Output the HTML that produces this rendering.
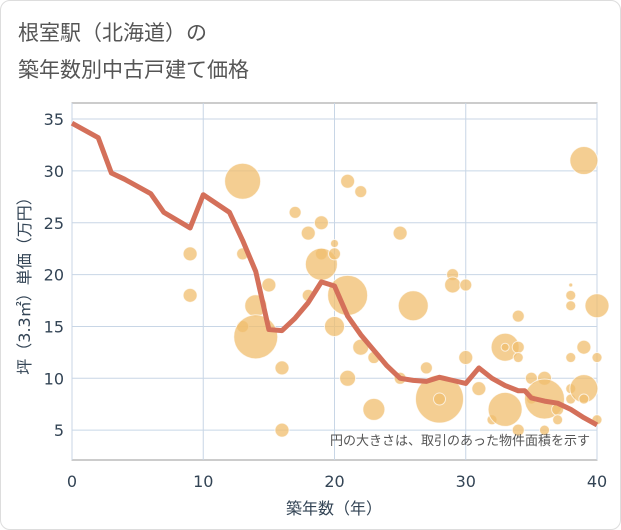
<!DOCTYPE html>
<html><head><meta charset="utf-8"><style>
body{margin:0;background:#fff;}
.wrap{position:absolute;left:0;top:0;width:619px;height:528px;border:1px solid #ddd;border-radius:10px;background:#fff;}
text{font-family:"DejaVu Sans","Liberation Sans","Noto Sans CJK JP",sans-serif;}
</style></head><body>
<div class="wrap"></div>
<svg id="c" width="621" height="530" style="position:absolute;left:0;top:0">
<text x="18" y="40" font-size="21" fill="#555">根室駅（北海道）の</text>
<text x="18" y="77" font-size="21" fill="#555">築年数別中古戸建て価格</text>
<g id="grid"></g><g id="bub"></g><g id="ln"></g><g id="ax"></g>
<text x="590" y="445" font-size="13" fill="#555" text-anchor="end">円の大きさは、取引のあった物件面積を示す</text>
<text x="334" y="514" font-size="16" fill="#345" text-anchor="middle">築年数（年）</text>
<text transform="translate(30,282) rotate(-90)" font-size="16" fill="#345" text-anchor="middle">坪（3.3㎡）単価（万円）</text>
</svg>
<script>
const lineAges=[0,2,3,4,5,6,7,9,10,12,13,14,15,16,17,18,19,20,21,22,23,24,25,26,27,28,29,30,31,32,33,34,34.5,35,36,37,38,39,40];
const lineValues=[34.6,33.2,29.8,29.2,28.5,27.8,26.0,24.5,27.7,26.0,23.3,20.3,14.7,14.6,15.8,17.3,19.3,18.9,16.0,14.2,12.7,11.2,10.0,9.8,9.7,10.1,9.8,9.5,11.0,10.0,9.3,8.8,8.8,8.1,7.8,7.6,7.0,6.2,5.5];
const bubAges=[9,9,13,13,13,14,14,15,16,16,17,18,18,19,19,19,20,20,20,21,21,21,22,22,23,23,25,25,26,27,28,28,29,29,30,30,31,32,33,33,33,34,34,34,34,35,35,36,36,36,37,37,38,38,38,38,38,38,39,39,39,39,40,40,40];
const bubValues=[22,18,29,22,15,17,14,19,11,5,26,24,18,25,22,21,23,22,15,29,18,10,28,13,12,7,24,10,17,11,8,8,20,19,19,12,9,6,13,13,7,16,13,12,5,10,8,10,8,5,7,6,19,18,17,12,9,8,31,13,9,8,17,12,6];
const bubSizes=[7,7,18,6,6,11,22,7,7,7,6,7,6,7,6,16,4,6,10,7,20,8,6,8,6,11,7,6,15,6,24,6,6,8,6,7,7,5,14,4,17,6,6,5,6,6,5,7,20,5,6,5,2,5,5,5,5,5,14,7,14,5,12,5,5];
const xTicks=[0,10,20,30,40], yTicks=[5,10,15,20,25,30,35];
const L=72,R=597,T=103,B=460;
const xs=v=>L+(v/40)*(R-L);
const ys=v=>482-10.37*v;
const NS='http://www.w3.org/2000/svg';
function mk(p,t,a){const e=document.createElementNS(NS,t);for(const k in a)e.setAttribute(k,a[k]);document.getElementById(p).appendChild(e);return e;}
const bg=mk('grid','rect',{x:L,y:T,width:R-L,height:B-T,fill:'#fff',stroke:'#999'});


xTicks.forEach(t=>{
 const g=mk('grid','line',{x1:xs(t),x2:xs(t),y1:T,y2:B,stroke:'#c8d6e6'});
 
 
 const l=mk('ax','text',{x:xs(t),y:487,'font-size':16,fill:'#345','text-anchor':'middle'});l.textContent=t;
 
 
});
yTicks.forEach(t=>{
 const g=mk('grid','line',{x1:L,x2:R,y1:ys(t),y2:ys(t),stroke:'#c8d6e6'});
 
 
 const l=mk('ax','text',{x:64,y:ys(t)+6,'font-size':16,fill:'#345','text-anchor':'end'});l.textContent=t;
 
 
});
bubAges.forEach((a,i)=>{
 const c=mk('bub','circle',{cx:xs(a),cy:ys(bubValues[i]),r:bubSizes[i],fill:'rgba(240,190,110,0.75)',stroke:'rgba(255,255,255,0.7)','stroke-width':1});
 
 
});
const p=mk('ln','polyline',{points:lineAges.map((a,i)=>xs(a)+','+ys(lineValues[i])).join(' '),fill:'none',stroke:'#d4705a','stroke-width':5,'stroke-linejoin':'round'});


</script>
</body></html>
